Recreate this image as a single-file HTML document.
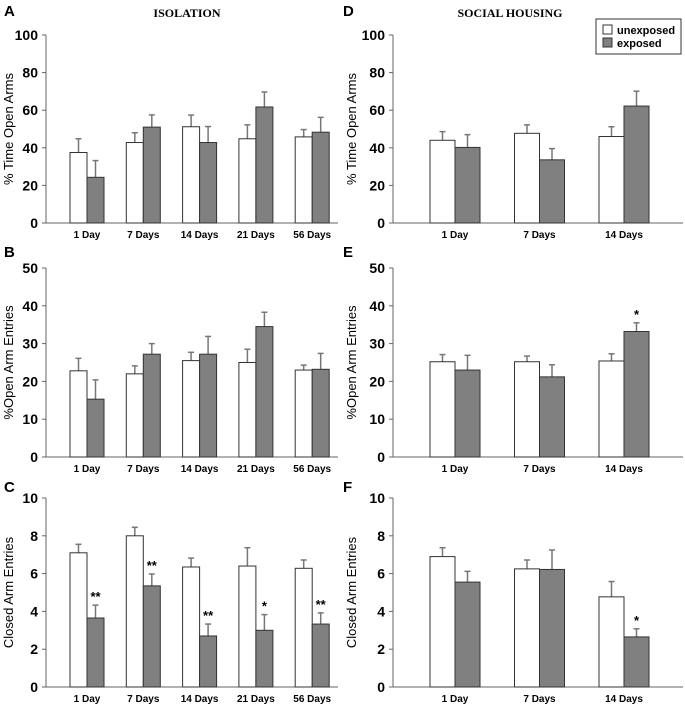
<!DOCTYPE html>
<html><head><meta charset="utf-8"><style>
html,body{margin:0;padding:0;background:#fff;}
svg{display:block;font-family:"Liberation Sans",Arial,sans-serif;}
</style></head><body>
<svg id="fig" width="685" height="707" viewBox="0 0 685 707" xmlns="http://www.w3.org/2000/svg">
<text x="187" y="17" text-anchor="middle" font-family="Liberation Serif,serif" font-weight="bold" font-size="12">ISOLATION</text>
<text x="510" y="17" text-anchor="middle" font-family="Liberation Serif,serif" font-weight="bold" font-size="12">SOCIAL HOUSING</text>
<g>
<rect x="596" y="19" width="85" height="35" fill="#fff" stroke="#333" stroke-width="1"/>
<rect x="603" y="25" width="9" height="9" fill="#fff" stroke="#333"/>
<text x="617" y="34" font-size="11" font-weight="bold">unexposed</text>
<rect x="603" y="38" width="9" height="9" fill="#808080" stroke="#333"/>
<text x="617" y="47" font-size="11" font-weight="bold">exposed</text>
</g>
</svg>
<script>
const catsIso = ["1 Day","7 Days","14 Days","21 Days","56 Days"];
const catsSoc = ["1 Day","7 Days","14 Days"];
const aUnexp = [37.5,42.8,51.2,44.8,45.8];
const aUnexpErr = [7.3,5.2,6.2,7.4,3.9];
const aExp = [24.3,51,42.8,61.7,48.3];
const aExpErr = [8.9,6.5,8.5,8.0,7.9];
const bUnexp = [22.8,22,25.5,25,23];
const bUnexpErr = [3.3,2.1,2.2,3.5,1.3];
const bExp = [15.3,27.2,27.2,34.5,23.2];
const bExpErr = [5.1,2.8,4.7,3.8,4.2];
const cUnexp = [7.1,8.0,6.35,6.4,6.28];
const cUnexpErr = [0.45,0.45,0.47,0.97,0.44];
const cExp = [3.65,5.35,2.7,3.0,3.33];
const cExpErr = [0.68,0.63,0.63,0.83,0.59];
const cStars = ["**","**","**","*","**"];
const dUnexp = [44,47.7,46];
const dUnexpErr = [4.6,4.5,5.2];
const dExp = [40.2,33.6,62.2];
const dExpErr = [6.8,6.0,7.9];
const eUnexp = [25.2,25.2,25.4];
const eUnexpErr = [1.9,1.5,1.9];
const eExp = [23,21.2,33.2];
const eExpErr = [3.9,3.2,2.3];
const eStars = ["","","*"];
const fUnexp = [6.9,6.25,4.77];
const fUnexpErr = [0.47,0.47,0.81];
const fExp = [5.55,6.22,2.65];
const fExpErr = [0.57,1.03,0.43];
const fStars = ["","","*"];
const ticksA = [0,20,40,60,80,100];
const ticksB = [0,10,20,30,40,50];
const ticksC = [0,2,4,6,8,10];

const svg = document.getElementById('fig');
const NS = 'http://www.w3.org/2000/svg';
function mk(tag, attrs, parent){
  const e = document.createElementNS(NS, tag);
  for (const k in attrs) e.setAttribute(k, attrs[k]);
  (parent||svg).appendChild(e);
  return e;
}
function panel(o){
  const g = mk('g', {});
  
  
  const max = o.ticks[o.ticks.length-1];
  const y = v => o.y0 - (v/max)*(o.y0 - o.yTop);
  const n = o.cats.length;
  const cx = i => o.firstC + o.step*i;
  const letter = mk('text', {x:o.letterX, y:o.letterY, 'font-size':15, 'font-weight':'bold'}, g);
  letter.textContent = o.letter;
  
  
  const ax = mk('path', {d:`M${o.xAxis},${o.yTop} V${o.y0} H${o.xEnd}`, stroke:'#666', fill:'none', 'stroke-width':1}, g);
  
  
  o.ticks.forEach(t => {
    mk('line', {x1:o.xAxis-4, x2:o.xAxis, y1:y(t), y2:y(t), stroke:'#666'}, g);
    const tl = mk('text', {x:o.xAxis-8, y:y(t)+5, 'text-anchor':'end', 'font-size':14, 'font-weight':'bold'}, g);
    tl.textContent = t;
    
    
  });
  const yt = mk('text', {x:0, y:0, transform:`translate(${o.titleX},${(o.y0+o.yTop)/2}) rotate(-90)`, 'text-anchor':'middle', 'font-size':13}, g);
  yt.textContent = o.title;
  
  
  for (let i=0;i<n;i++){
    const c = cx(i);
    const series = [[o.u,o.ue,'#fff',c-o.bw],[o.e,o.ee,'#808080',c]];
    series.forEach((s,j) => {
      const v = s[0][i], er = s[1][i];
      const top = y(v+er);
      mk('line', {x1:s[3]+o.bw/2, x2:s[3]+o.bw/2, y1:y(v), y2:top, stroke:'#777', 'stroke-width':1.5}, g);
      mk('line', {x1:s[3]+o.bw/2-3, x2:s[3]+o.bw/2+3, y1:top, y2:top, stroke:'#777', 'stroke-width':1.5}, g);
      const r = mk('rect', {x:s[3], y:y(v), width:o.bw, height:o.y0-y(v), fill:s[2], stroke:'#333', 'stroke-width':1}, g);
      
      
      if (j===1 && o.stars && o.stars[i]) {
        const st = mk('text', {x:s[3]+o.bw/2, y:top-4, 'text-anchor':'middle', 'font-size':13, 'font-weight':'bold'}, g);
        st.textContent = o.stars[i];
        
        
      }
    });
    const cl = mk('text', {x:c, y:o.y0+15, 'text-anchor':'middle', 'font-size':10, 'font-weight':'bold'}, g);
    cl.textContent = o.cats[i];
    
    
  }
}
const L = {xAxis:46, xEnd:338, titleX:13, letterX:4, bw:17, firstC:87, step:56.3, cats:catsIso};
const R = {xAxis:393, xEnd:683, titleX:356, letterX:343, bw:25, firstC:455, step:84.5, cats:catsSoc};
panel(Object.assign({}, L, {letter:'A', letterY:16, yTop:35, y0:223, ticks:ticksA, title:'% Time Open Arms', u:aUnexp, ue:aUnexpErr, e:aExp, ee:aExpErr}));
panel(Object.assign({}, L, {letter:'B', letterY:257, yTop:268, y0:457, ticks:ticksB, title:'%Open Arm Entries', u:bUnexp, ue:bUnexpErr, e:bExp, ee:bExpErr}));
panel(Object.assign({}, L, {letter:'C', letterY:492, yTop:498, y0:687, ticks:ticksC, title:'Closed Arm Entries', u:cUnexp, ue:cUnexpErr, e:cExp, ee:cExpErr, stars:cStars}));
panel(Object.assign({}, R, {letter:'D', letterY:16, yTop:35, y0:223, ticks:ticksA, title:'% Time Open Arms', u:dUnexp, ue:dUnexpErr, e:dExp, ee:dExpErr}));
panel(Object.assign({}, R, {letter:'E', letterY:257, yTop:268, y0:457, ticks:ticksB, title:'%Open Arm Entries', u:eUnexp, ue:eUnexpErr, e:eExp, ee:eExpErr, stars:eStars}));
panel(Object.assign({}, R, {letter:'F', letterY:492, yTop:498, y0:687, ticks:ticksC, title:'Closed Arm Entries', u:fUnexp, ue:fUnexpErr, e:fExp, ee:fExpErr, stars:fStars}));
</script>
</body></html>
